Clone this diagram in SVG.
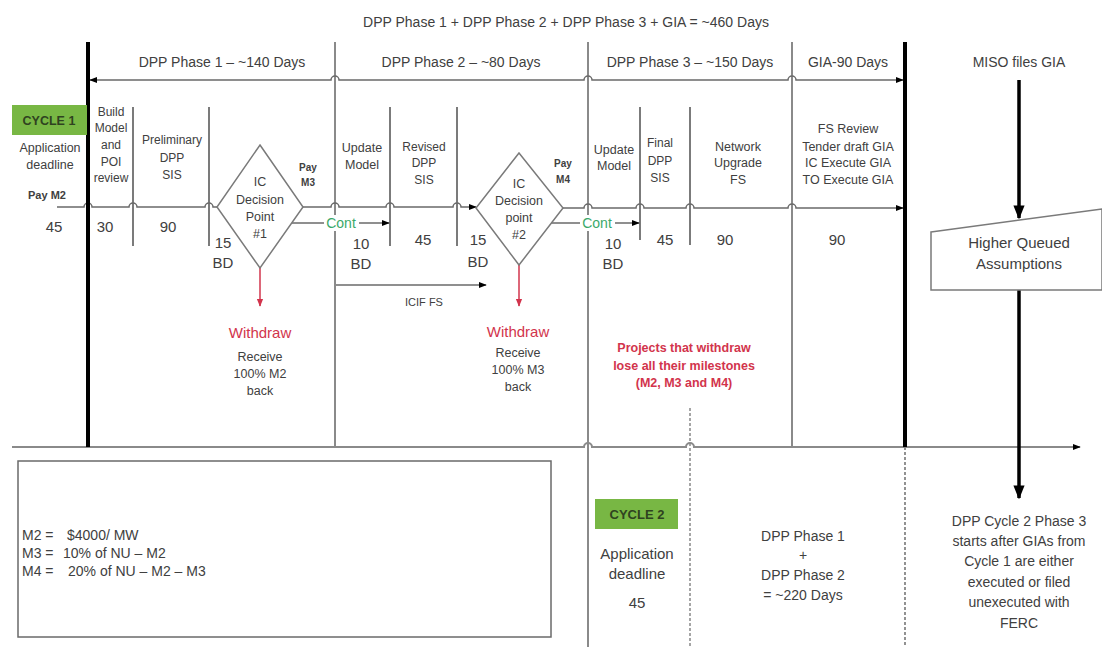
<svg xmlns="http://www.w3.org/2000/svg" width="1102" height="647" viewBox="0 0 1102 647">
<defs>
<style>
.t{font-family:"Liberation Sans",Arial,sans-serif;fill:#404040;text-anchor:middle}
.l{text-anchor:start}
.f11{font-size:11px}.f12{font-size:12px}.f125{font-size:12.5px}.f14{font-size:14px}.f15{font-size:15px}
.b{font-weight:bold}
.red{fill:#d2344c}
.grn{fill:#3aa96a}
.div{stroke:#8a8a8a;stroke-width:2;fill:none}
.sub{stroke:#5a5a5a;stroke-width:1.6;fill:none}
.thin{stroke:#6a6a6a;stroke-width:1.5;fill:none}
.thick{stroke:#000;stroke-width:4;fill:none}
.box{fill:#78b744}
.shape{fill:#fff;stroke:#7a7a7a;stroke-width:1.5}
</style>
<marker id="ah" viewBox="0 0 10 10" refX="9" refY="5" markerWidth="8" markerHeight="8" markerUnits="userSpaceOnUse" orient="auto-start-reverse"><path d="M0,1 L10,5 L0,9 Z" fill="#000"/></marker>
<marker id="ahr" viewBox="0 0 10 10" refX="9" refY="5" markerWidth="8" markerHeight="8" markerUnits="userSpaceOnUse" orient="auto"><path d="M0,1 L10,5 L0,9 Z" fill="#d2344c"/></marker>
<marker id="ahb" viewBox="0 0 10 10" refX="9" refY="5" markerWidth="14" markerHeight="14" markerUnits="userSpaceOnUse" orient="auto"><path d="M0,1 L10,5 L0,9 Z" fill="#000"/></marker>
</defs>
<rect width="1102" height="647" fill="#fff"/>

<g id="connectors">
  <line class="div" x1="335" y1="42" x2="335" y2="447"/>
  <line class="div" x1="588" y1="42" x2="588" y2="647"/>
  <line class="div" x1="792" y1="42" x2="792" y2="447"/>
  <line class="sub" x1="133" y1="107" x2="133" y2="246"/>
  <line class="sub" x1="209" y1="107" x2="209" y2="246"/>
  <line class="sub" x1="390" y1="107" x2="390" y2="246"/>
  <line class="sub" x1="457" y1="107" x2="457" y2="246"/>
  <line class="sub" x1="640" y1="107" x2="640" y2="240"/>
  <line class="sub" x1="690" y1="107" x2="690" y2="245"/>
  <line x1="690" y1="408" x2="690" y2="647" stroke="#6a6a6a" stroke-width="1.2" stroke-dasharray="3,2"/>
  <line x1="905" y1="447" x2="905" y2="647" stroke="#4a4a4a" stroke-width="1.2" stroke-dasharray="3,2"/>
  <path class="thin" d="M90,80 H331 a4,4 0 0 1 8,0 H584 a4,4 0 0 1 8,0 H788 a4,4 0 0 1 8,0 H903" marker-start="url(#ah)" marker-end="url(#ah)"/>
  <path class="thin" d="M57,207 H84 a4,4 0 0 1 8,0 H129 a4,4 0 0 1 8,0 H205 a4,4 0 0 1 8,0 H217"/>
  <path class="thin" d="M303,207 H331 a4,4 0 0 1 8,0 H386 a4,4 0 0 1 8,0 H453 a4,4 0 0 1 8,0 H476" marker-end="url(#ah)"/>
  <path class="thin" d="M563,208 H584 a4,4 0 0 1 8,0 H636 a4,4 0 0 1 8,0 H686 a4,4 0 0 1 8,0 H788 a4,4 0 0 1 8,0 H903" marker-end="url(#ah)"/>
  <line class="thin" x1="292" y1="223" x2="389" y2="223" marker-end="url(#ah)"/>
  <line class="thin" x1="551" y1="223" x2="639" y2="223" marker-end="url(#ah)"/>
  <line class="thin" x1="336" y1="285" x2="486" y2="285" marker-end="url(#ah)"/>
  <line x1="260" y1="268" x2="260" y2="306" stroke="#d2344c" stroke-width="1.5" marker-end="url(#ahr)"/>
  <line x1="519" y1="265" x2="519" y2="306" stroke="#d2344c" stroke-width="1.5" marker-end="url(#ahr)"/>
  <path d="M12,447 H584 a4,4 0 0 1 8,0 H686 a4,4 0 0 1 8,0 H1080" stroke="#8a8a8a" stroke-width="2" fill="none" marker-end="url(#ah)"/>
  <line class="thick" x1="88" y1="42" x2="88" y2="447"/>
  <line class="thick" x1="905" y1="42" x2="905" y2="447"/>
  <line x1="1019" y1="80" x2="1019" y2="218" stroke="#000" stroke-width="3.5" marker-end="url(#ahb)"/>
  <line x1="1019" y1="290" x2="1019" y2="498" stroke="#000" stroke-width="3.5" marker-end="url(#ahb)"/>
</g>

<g id="title"><text class="t f14" x="566" y="27">DPP Phase 1 + DPP Phase 2 + DPP Phase 3 + GIA = ~460 Days</text></g>
<g id="phase1-label"><text class="t f14" x="222" y="67">DPP Phase 1 – ~140 Days</text></g>
<g id="phase2-label"><text class="t f14" x="461" y="67">DPP Phase 2 – ~80 Days</text></g>
<g id="phase3-label"><text class="t f14" x="690" y="67">DPP Phase 3 – ~150 Days</text></g>
<g id="gia-label"><text class="t f14" x="848" y="67">GIA-90 Days</text></g>
<g id="miso-label"><text class="t f14" x="1019" y="67">MISO files GIA</text></g>

<g id="cycle1">
  <rect class="box" x="12" y="105" width="75" height="30"/>
  <text class="t b" x="49" y="125" font-size="12.5" style="fill:#2f4220">CYCLE 1</text>
  <text class="t f125" x="50" y="152">Application</text>
  <text class="t f125" x="50" y="169">deadline</text>
  <text class="t b f11" x="47" y="199">Pay M2</text>
  <text class="t f15" x="54" y="232">45</text>
</g>
<g id="build-model">
  <text class="t f12" x="111" y="116">Build</text>
  <text class="t f12" x="111" y="132">Model</text>
  <text class="t f12" x="111" y="149">and</text>
  <text class="t f12" x="111" y="166">POI</text>
  <text class="t f12" x="111" y="182">review</text>
  <text class="t f15" x="105" y="232">30</text>
</g>
<g id="preliminary-sis">
  <text class="t f12" x="172" y="144">Preliminary</text>
  <text class="t f12" x="172" y="162">DPP</text>
  <text class="t f12" x="172" y="179">SIS</text>
  <text class="t f15" x="168" y="232">90</text>
</g>
<g id="dp1-duration">
  <text class="t f15" x="223" y="248">15</text>
  <text class="t f15" x="223" y="268">BD</text>
</g>
<g id="decision1">
  <polygon class="shape" points="260,145 303,207 260,268 217,207"/>
  <text class="t f125" x="260" y="186">IC</text>
  <text class="t f125" x="260" y="204">Decision</text>
  <text class="t f125" x="260" y="221">Point</text>
  <text class="t f125" x="260" y="238">#1</text>
</g>
<g id="pay-m3">
  <text class="t b" font-size="10" x="308" y="171">Pay</text>
  <text class="t b" font-size="10" x="308" y="186">M3</text>
</g>
<g id="cont1">
  <rect x="324" y="215" width="35" height="16" fill="#fff"/>
  <text class="t f14 grn" x="341" y="228">Cont</text>
</g>
<g id="withdraw1">
  <text class="t f15 red" x="260" y="338">Withdraw</text>
  <text class="t f125" x="260" y="361">Receive</text>
  <text class="t f125" x="260" y="378">100% M2</text>
  <text class="t f125" x="260" y="395">back</text>
</g>

<g id="update-model-2">
  <text class="t f125" x="362" y="152">Update</text>
  <text class="t f125" x="362" y="169">Model</text>
  <text class="t f15" x="361" y="249">10</text>
  <text class="t f15" x="361" y="269">BD</text>
</g>
<g id="revised-sis">
  <text class="t f12" x="424" y="151">Revised</text>
  <text class="t f12" x="424" y="167">DPP</text>
  <text class="t f12" x="424" y="184">SIS</text>
  <text class="t f15" x="423" y="245">45</text>
</g>
<g id="dp2-duration">
  <text class="t f15" x="478" y="245">15</text>
  <text class="t f15" x="478" y="267">BD</text>
</g>
<g id="icif-fs"><text class="t f11" x="424" y="306">ICIF FS</text></g>
<g id="decision2">
  <polygon class="shape" points="519,153 563,208 519,265 476,208"/>
  <text class="t f125" x="519" y="188">IC</text>
  <text class="t f125" x="519" y="205">Decision</text>
  <text class="t f125" x="519" y="222">point</text>
  <text class="t f125" x="519" y="239">#2</text>
</g>
<g id="pay-m4">
  <text class="t b" font-size="10" x="563" y="167">Pay</text>
  <text class="t b" font-size="10" x="563" y="183">M4</text>
</g>
<g id="cont2">
  <rect x="580" y="215" width="35" height="16" fill="#fff"/>
  <text class="t f14 grn" x="597" y="228">Cont</text>
</g>
<g id="withdraw2">
  <text class="t f15 red" x="518" y="337">Withdraw</text>
  <text class="t f125" x="518" y="357">Receive</text>
  <text class="t f125" x="518" y="374">100% M3</text>
  <text class="t f125" x="518" y="391">back</text>
</g>

<g id="update-model-3">
  <text class="t f125" x="614" y="154">Update</text>
  <text class="t f125" x="614" y="170">Model</text>
  <text class="t f15" x="613" y="249">10</text>
  <text class="t f15" x="613" y="269">BD</text>
</g>
<g id="final-sis">
  <text class="t f12" x="660" y="147">Final</text>
  <text class="t f12" x="660" y="165">DPP</text>
  <text class="t f12" x="660" y="182">SIS</text>
  <text class="t f15" x="665" y="245">45</text>
</g>
<g id="network-upgrade">
  <text class="t f125" x="738" y="151">Network</text>
  <text class="t f125" x="738" y="167">Upgrade</text>
  <text class="t f125" x="738" y="184">FS</text>
  <text class="t f15" x="725" y="245">90</text>
</g>
<g id="gia-tasks">
  <text class="t f125" x="848" y="133">FS Review</text>
  <text class="t f125" x="848" y="151">Tender draft GIA</text>
  <text class="t f125" x="848" y="167">IC Execute GIA</text>
  <text class="t f125" x="848" y="184">TO Execute GIA</text>
  <text class="t f15" x="837" y="245">90</text>
</g>
<g id="withdraw-note">
  <text class="t b f125 red" x="684" y="352">Projects that withdraw</text>
  <text class="t b f125 red" x="684" y="370">lose all their milestones</text>
  <text class="t b f125 red" x="684" y="387">(M2, M3 and M4)</text>
</g>

<g id="higher-queued">
  <polygon class="shape" points="931,232 1102,209 1102,290 931,290"/>
  <text class="t f15" x="1019" y="248">Higher Queued</text>
  <text class="t f15" x="1019" y="269">Assumptions</text>
</g>

<g id="legend">
  <rect x="18" y="461" width="533" height="176" fill="#fff" stroke="#6a6a6a" stroke-width="1.5"/>
  <text class="t l f14" x="22" y="540">M2 =<tspan x="67">$4000/ MW</tspan></text>
  <text class="t l f14" x="22" y="558">M3 =<tspan x="63">10% of NU – M2</tspan></text>
  <text class="t l f14" x="22" y="576">M4 =<tspan x="68">20% of NU – M2 – M3</tspan></text>
</g>

<g id="cycle2">
  <rect class="box" x="595" y="499" width="83" height="30"/>
  <text class="t b" x="637" y="519" font-size="13" style="fill:#2f4220">CYCLE 2</text>
  <text class="t f15" x="637" y="559">Application</text>
  <text class="t f15" x="637" y="579">deadline</text>
  <text class="t f15" x="637" y="608">45</text>
</g>
<g id="phase12-summary">
  <text class="t f14" x="803" y="541">DPP Phase 1</text>
  <text class="t f14" x="803" y="560">+</text>
  <text class="t f14" x="803" y="580">DPP Phase 2</text>
  <text class="t f14" x="803" y="600">= ~220 Days</text>
</g>
<g id="cycle2-phase3-note">
  <text class="t f14" x="1019" y="526">DPP Cycle 2 Phase 3</text>
  <text class="t f14" x="1019" y="546">starts after GIAs from</text>
  <text class="t f14" x="1019" y="566">Cycle 1 are either</text>
  <text class="t f14" x="1019" y="587">executed or filed</text>
  <text class="t f14" x="1019" y="607">unexecuted with</text>
  <text class="t f14" x="1019" y="628">FERC</text>
</g>
</svg>
